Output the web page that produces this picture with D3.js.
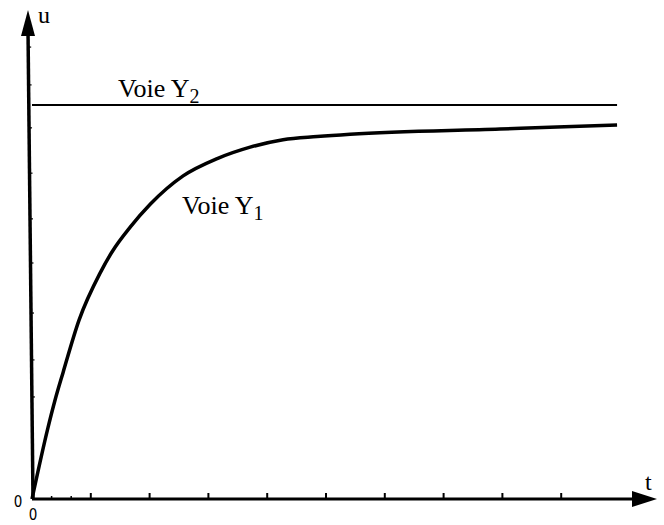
<!DOCTYPE html>
<html>
<head>
<meta charset="utf-8">
<script src="https://cdn.jsdelivr.net/npm/d3@7"></script>
<style>
  html, body { margin: 0; padding: 0; background: #fff; }
  svg { display: block; }
  .lbl { font-family: "Liberation Serif", "Times New Roman", serif; fill: #000; }
  .zero { font-family: "Liberation Sans Narrow", "DejaVu Sans Condensed", sans-serif; font-size: 15px; fill: #000; }
</style>
</head>
<body>
<div id="chart"></div>
<script>
// Voie Y1 : charge du condensateur (u en fraction de la tension de la voie Y2)
let y1Time = [0, 0.27, 0.39, 0.53, 0.80, 1.16, 1.36, 1.67, 2.01, 2.57, 3.15, 3.71, 4.27, 4.85, 5.41, 7.96, 8.93, 9.95];
let y1Value = [0, 0.180, 0.250, 0.322, 0.454, 0.574, 0.627, 0.690, 0.748, 0.820, 0.864, 0.893, 0.912, 0.920, 0.926, 0.939, 0.944, 0.949];

// Voie Y2 : tension constante
let y2Time = [0, 9.95];
let y2Value = [1, 1];

// graduations (sans valeurs) sur les axes
let xTicks = [1, 2, 3, 4, 5, 6, 7, 8, 9];
let xMinorTicks = [1 / 3, 2 / 3];
let yTicks = [0.259, 0.353, 0.472, 0.599, 0.711, 0.827, 0.942, 1.051, 1.147];

let width = 664;
let height = 525;

let svg = d3.select('#chart')
  .append('svg')
  .attr('width', width)
  .attr('height', height);

let x = d3.scaleLinear().domain([0, 10]).range([32, 620]);
let y = d3.scaleLinear().domain([0, 1]).range([499, 105]);

let x0 = x(0), y0 = y(0);

// axe des u (legerement incline comme sur l'original)
svg.append('line')
  .attr('x1', x0 + 1).attr('y1', y0)
  .attr('x2', x0 - 4).attr('y2', 30)
  .attr('stroke', '#000').attr('stroke-width', 3.5);

svg.append('path')
  .attr('d', `M${x0 - 4},10 L${x0 - 11},36 L${x0 + 3},36 Z`)
  .attr('fill', '#000');

// axe des t
svg.append('line')
  .attr('x1', x0).attr('y1', y0)
  .attr('x2', 640).attr('y2', y0)
  .attr('stroke', '#000').attr('stroke-width', 2.8);

svg.append('path')
  .attr('d', `M657,${y0} L632,${y0 - 8} L632,${y0 + 8} Z`)
  .attr('fill', '#000');

svg.selectAll('.xtick')
  .data(xTicks)
  .enter().append('line')
  .attr('class', 'xtick')
  .attr('x1', d => x(d)).attr('x2', d => x(d))
  .attr('y1', y0).attr('y2', y0 - 6)
  .attr('stroke', '#000').attr('stroke-width', 2);

svg.selectAll('.xminor')
  .data(xMinorTicks)
  .enter().append('line')
  .attr('class', 'xminor')
  .attr('x1', d => x(d)).attr('x2', d => x(d))
  .attr('y1', y0).attr('y2', y0 - 3)
  .attr('stroke', '#000').attr('stroke-width', 1.5);

// petites marques sur l'axe des u (suivent l'inclinaison)
let axisX = v => x0 + 1 - 5 * (y0 - y(v)) / (y0 - 30);
svg.selectAll('.ytick')
  .data(yTicks)
  .enter().append('line')
  .attr('class', 'ytick')
  .attr('x1', d => axisX(d)).attr('x2', d => axisX(d) + 3)
  .attr('y1', d => y(d)).attr('y2', d => y(d))
  .attr('stroke', '#000').attr('stroke-width', 1.2);

// courbes
let line = d3.line()
  .x(d => x(d[0]))
  .y(d => y(d[1]))
  .curve(d3.curveMonotoneX);

svg.append('path')
  .datum(y2Time.map((t, i) => [t, y2Value[i]]))
  .attr('d', d3.line().x(d => x(d[0])).y(d => y(d[1])))
  .attr('fill', 'none')
  .attr('stroke', '#000')
  .attr('stroke-width', 1.8);

svg.append('path')
  .datum(y1Time.map((t, i) => [t, y1Value[i]]))
  .attr('d', line)
  .attr('fill', 'none')
  .attr('stroke', '#000')
  .attr('stroke-width', 3.5)
  .attr('stroke-linejoin', 'round');

// textes
let t2 = svg.append('text')
  .attr('class', 'lbl')
  .attr('x', 118).attr('y', 97)
  .style('font-size', '26px');
t2.append('tspan').text('Voie Y');
t2.append('tspan').attr('dy', 6).style('font-size', '20px').text('2');

let t1 = svg.append('text')
  .attr('class', 'lbl')
  .attr('x', 182).attr('y', 214)
  .style('font-size', '26px');
t1.append('tspan').text('Voie Y');
t1.append('tspan').attr('dy', 6).style('font-size', '20px').text('1');

svg.append('text')
  .attr('class', 'lbl')
  .attr('x', 38).attr('y', 23)
  .style('font-size', '24px')
  .text('u');

svg.append('text')
  .attr('class', 'lbl')
  .attr('x', 645).attr('y', 490)
  .style('font-size', '24px')
  .text('t');

svg.append('text')
  .attr('class', 'zero')
  .attr('x', 18).attr('y', 507)
  .attr('text-anchor', 'middle')
  .text('0');

svg.append('text')
  .attr('class', 'zero')
  .attr('x', 33).attr('y', 520)
  .attr('text-anchor', 'middle')
  .text('0');
</script>
</body>
</html>
